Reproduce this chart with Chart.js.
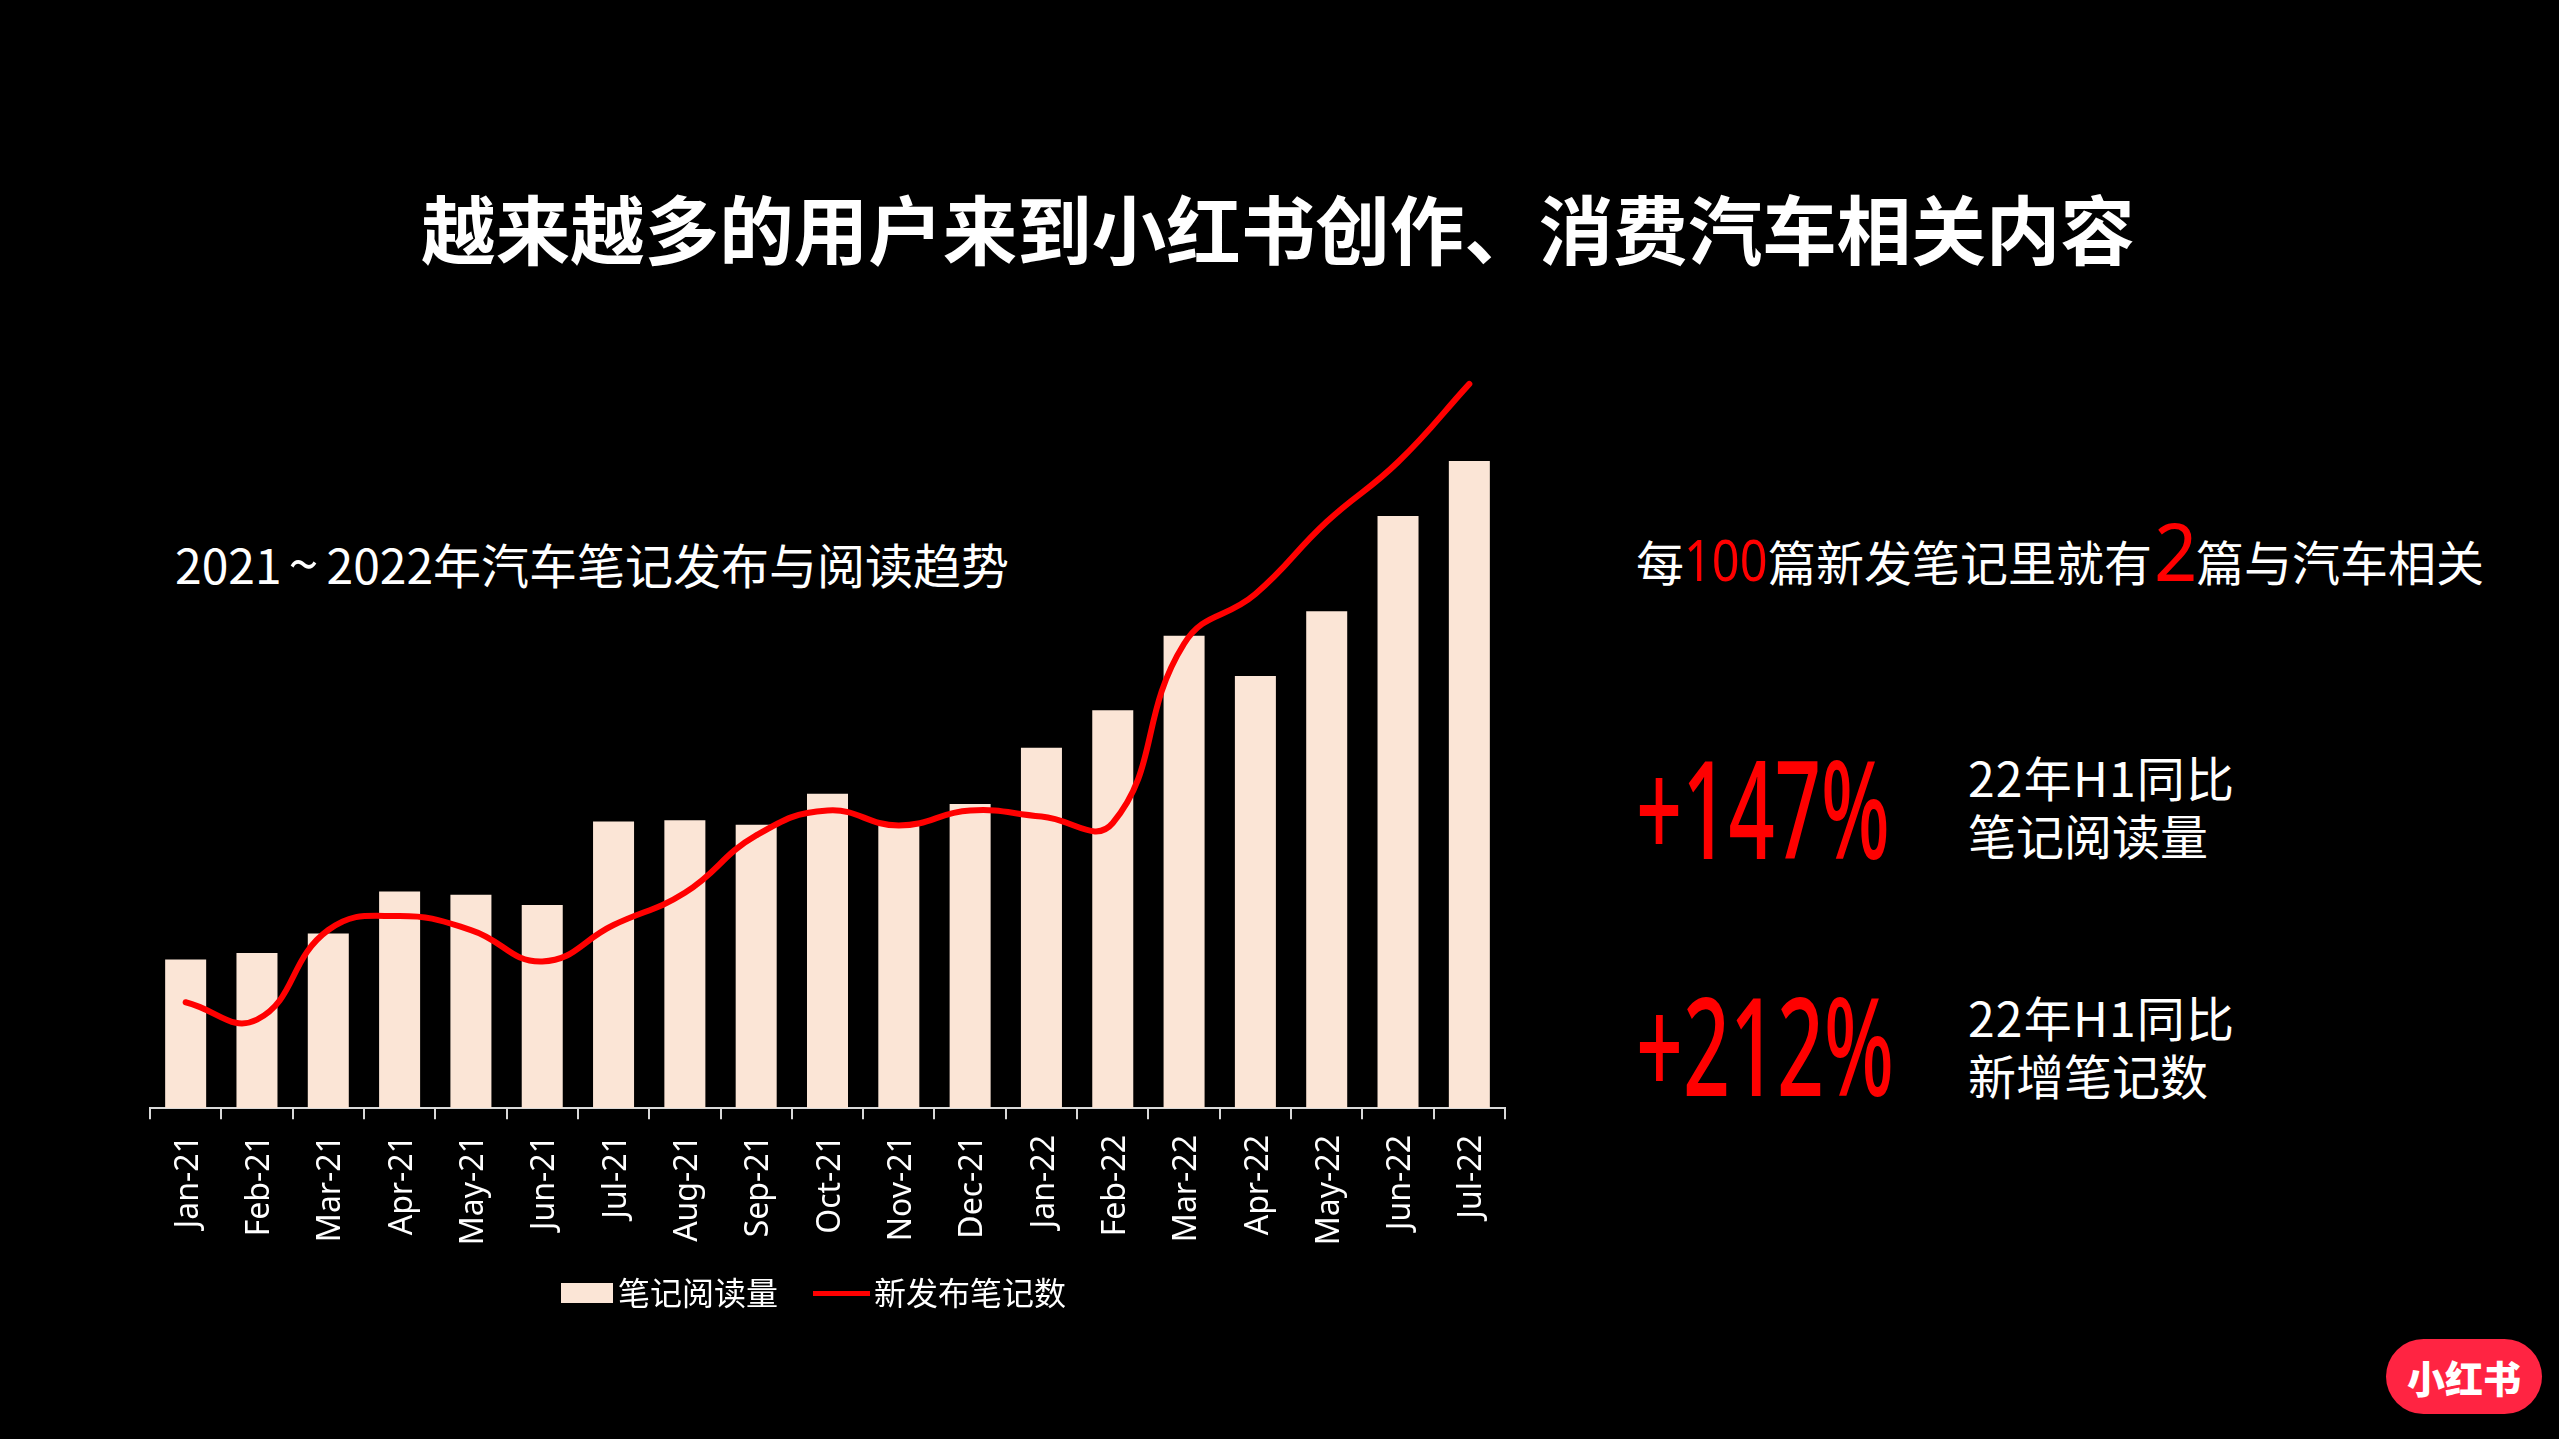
<!DOCTYPE html>
<html lang="zh">
<head>
<meta charset="utf-8">
<title>小红书汽车笔记趋势</title>
<script src="https://cdn.jsdelivr.net/npm/chart.js@4/dist/chart.umd.js"></script>
<style>
  html, body { margin: 0; padding: 0; background: #000; }
  body { width: 2559px; height: 1439px; position: relative; overflow: hidden; color: #fff;
         font-family: "Noto Sans CJK SC", "Noto Sans", sans-serif; }
  #chart { position: absolute; left: 0; top: 0; }
  .t { position: absolute; white-space: nowrap; line-height: 1; }
  .red { color: #f00; }
  .tight { display: inline-block; font-family: "Noto Sans", sans-serif; transform-origin: 0 50%; }
  .big { font-family: "Noto Sans", sans-serif; font-weight: 500; color: #f00; font-size: 137px;
         transform-origin: 0 50%; transform: scaleX(.59); }
  #title { left: 0; width: 2559px; text-align: center; padding-right: 3px; box-sizing: border-box; top: 190px; font-size: 74.5px; font-weight: 700; }
  #logo { position: absolute; left: 2386px; top: 1339px; width: 156px; height: 75px; border-radius: 38px; background: #ff2442;
          text-align: center; line-height: 75px; font-size: 38px; font-weight: 900; }
</style>
</head>
<body>
<div id="title" class="t">越来越多的用户来到小红书创作、消费汽车相关内容</div>
<div class="t" style="left:175px;top:534px;font-size:48px">2021<span style="margin:0 8px 0 7px;font-size:54px">~</span>2022年汽车笔记发布与阅读趋势</div>
<div class="t" style="left:1636px;top:510px;font-size:48px">每<span class="tight red" style="font-size:56px;width:84px;transform:scaleX(.87)">100</span>篇新发笔记里就有<span class="tight red" style="font-size:80px;width:40px;margin:0 2px;transform:scaleX(.95)">2</span>篇与汽车相关</div>
<div class="t big" style="left:1636px;top:738px">+147%</div>
<div class="t" style="left:1968px;top:752px;font-size:48px;letter-spacing:1.2px">22年H1同比</div>
<div class="t" style="left:1968px;top:810px;font-size:48px">笔记阅读量</div>
<div class="t big" style="left:1636px;top:975px;transform:scaleX(.6)">+212%</div>
<div class="t" style="left:1968px;top:992px;font-size:48px;letter-spacing:1.2px">22年H1同比</div>
<div class="t" style="left:1968px;top:1050px;font-size:48px">新增笔记数</div>
<div id="logo">小红书</div>
<canvas id="chart"></canvas>
<script>
const months = ['Jan-21', 'Feb-21', 'Mar-21', 'Apr-21', 'May-21', 'Jun-21', 'Jul-21', 'Aug-21', 'Sep-21', 'Oct-21',
  'Nov-21', 'Dec-21', 'Jan-22', 'Feb-22', 'Mar-22', 'Apr-22', 'May-22', 'Jun-22', 'Jul-22'];
const readCounts = [23, 24, 27, 33.5, 33, 31.4, 44.3, 44.5, 43.8, 48.6, 43.7, 47, 55.7, 61.5, 73, 66.8, 76.8, 91.5, 100];
const newNotes = [21.3, 17.8, 35.8, 38.6, 35.8, 29.5, 36.8, 43.3, 54.8, 59.8, 56.8, 59.8, 58.6, 57.3, 93.3, 103.3, 117.8, 129.8, 145.5];
const barLabel = '笔记阅读量';
const lineLabel = '新发布笔记数';

// legend keys: the visible key sits right-aligned inside a transparent canvas,
// so the gap to the legend text stays small
function swatch(imgW, keyW, keyH, color) {
  const c = document.createElement('canvas');
  c.width = imgW;
  c.height = keyH;
  const ctx = c.getContext('2d');
  ctx.fillStyle = color;
  ctx.fillRect(imgW - keyW, 0, keyW, keyH);
  return c;
}

const canvas = document.getElementById('chart');
canvas.width = 1638;
canvas.height = 1319;
canvas.style.width = '1638px';
canvas.style.height = '1319px';

new Chart(canvas, {
  data: {
    labels: months,
    datasets: [
      { type: 'bar', label: barLabel, data: readCounts, backgroundColor: '#fbe5d6', order: 2, yAxisID: 'y',
        categoryPercentage: 1, barPercentage: 0.575 },
      { type: 'line', label: lineLabel, data: newNotes, borderColor: '#f00', borderWidth: 6, borderCapStyle: 'round',
        pointRadius: 0, tension: 0.45, order: 1, yAxisID: 'y1' }
    ]
  },
  options: {
    responsive: false,
    animation: false,
    devicePixelRatio: 1,
    layout: { padding: { left: 99, right: 133, top: 350, bottom: 0 } },
    scales: {
      x: {
        offset: true,
        border: { color: '#d9d9d9', width: 2 },
        grid: { display: true, drawOnChartArea: false, drawTicks: true, tickLength: 11, offset: true, color: '#d9d9d9', lineWidth: 2 },
        ticks: { color: '#fff', font: { family: '"Noto Sans"', size: 32 }, minRotation: 90, maxRotation: 90, padding: 15.75, labelOffset: 3, autoSkip: false }
      },
      // invisible, only holds the plot away from the legend's centre line
      y: {
        min: 0, max: 117.15,
        ticks: { display: false }, grid: { display: false }, border: { display: false },
        afterFit: (scale) => { scale.width = 51; }
      },
      y1: { display: false, min: 0, max: 152.3 }
    },
    plugins: {
      tooltip: { enabled: false },
      legend: {
        position: 'bottom',
        labels: {
          usePointStyle: true,
          pointStyleWidth: 64,
          padding: 16,
          color: '#fff',
          font: { family: '"Noto Sans CJK SC"', size: 32 },
          sort: (a, b) => a.datasetIndex - b.datasetIndex,
          generateLabels: (chart) => Chart.defaults.plugins.legend.labels.generateLabels(chart).map((item) => ({
            ...item,
            pointStyle: item.datasetIndex === 0 ? swatch(86, 52, 20, '#fbe5d6') : swatch(88, 57, 5, '#f00')
          }))
        }
      }
    }
  }
});
</script>
</body>
</html>
